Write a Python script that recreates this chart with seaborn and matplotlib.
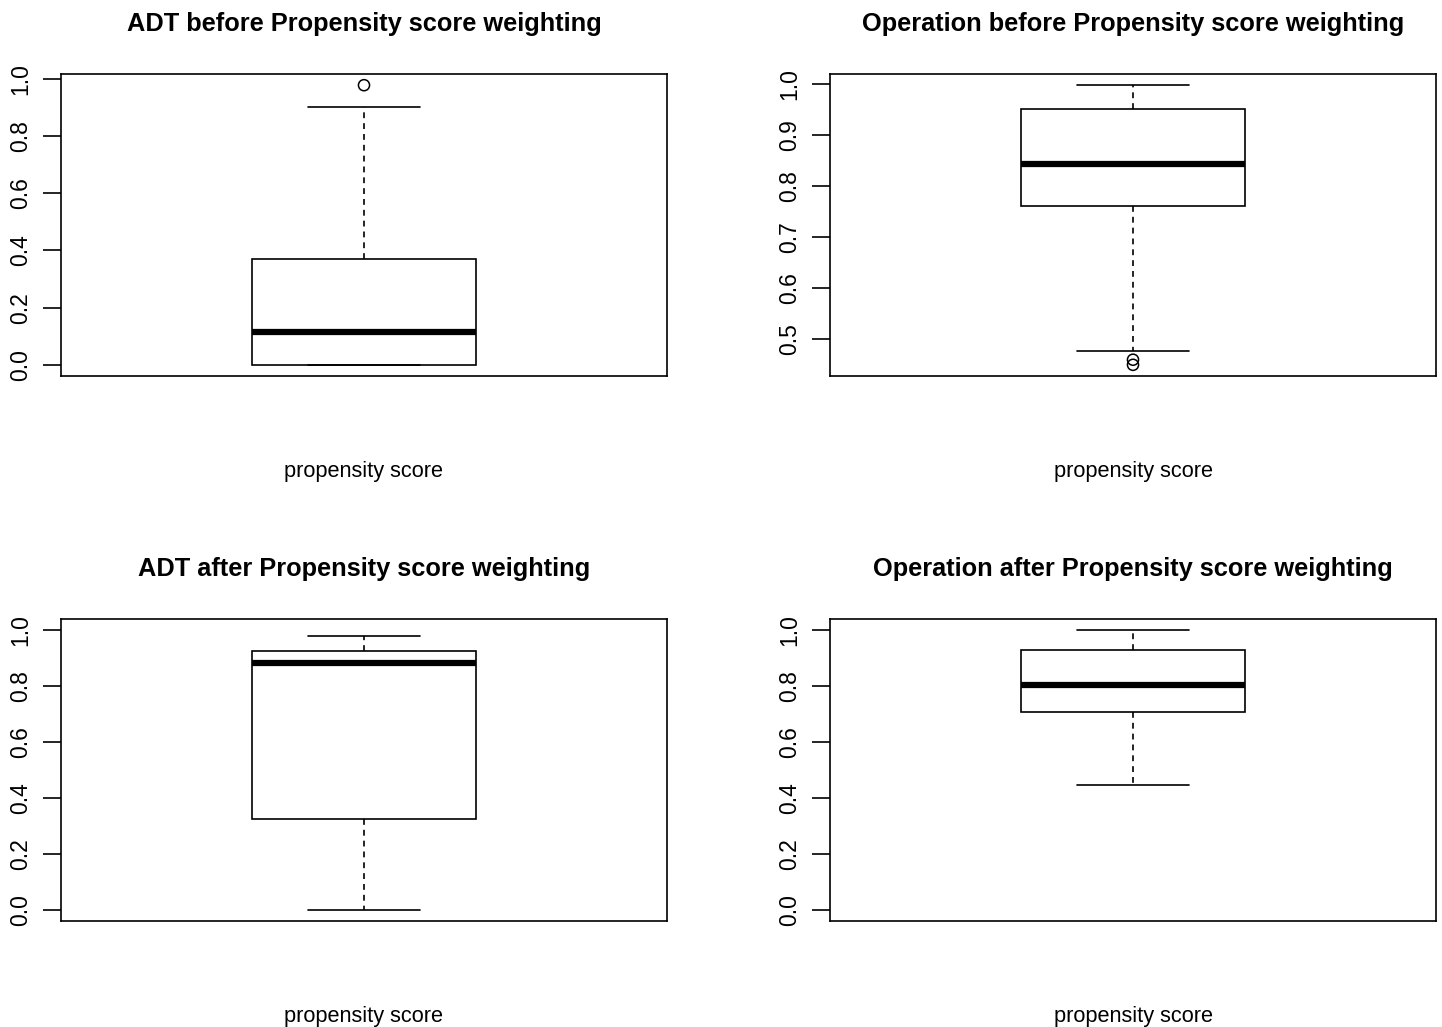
import numpy as np
import pandas as pd
import matplotlib
matplotlib.use("Agg")
import matplotlib.pyplot as plt
import seaborn as sns

# summary values: whisker low, Q1, median, Q3, whisker high
titles = ["ADT before Propensity score weighting",
          "Operation before Propensity score weighting",
          "ADT after Propensity score weighting",
          "Operation after Propensity score weighting"]
adt_before = [0.0, 0.0, 0.115, 0.371, 0.902]
op_before = [0.476, 0.760, 0.842, 0.951, 0.997]
adt_after = [0.0, 0.323, 0.882, 0.926, 0.978]
op_after = [0.448, 0.706, 0.804, 0.929, 1.0]
outliers = [[0.978], [0.459, 0.449], [], []]
ticks = [[0.0, 0.2, 0.4, 0.6, 0.8, 1.0],
         [0.5, 0.6, 0.7, 0.8, 0.9, 1.0],
         [0.0, 0.2, 0.4, 0.6, 0.8, 1.0],
         [0.0, 0.2, 0.4, 0.6, 0.8, 1.0]]
fixed_ylim = [None, None, (0, 1), (0, 1)]
boxes = [adt_before, op_before, adt_after, op_after]

sns.set_style("ticks")
plt.rcParams['font.family'] = ['Liberation Sans', 'DejaVu Sans']
plt.rcParams['text.color'] = 'black'
plt.rcParams['axes.labelcolor'] = 'black'
plt.rcParams['ytick.color'] = 'black'

fig = plt.figure(figsize=(14.42, 10.27), dpi=100)
W, H = 1442, 1027
# axes boxes in pixels (left, top, right, bottom)
frames = [(61, 74, 667, 376), (830, 74, 1436, 376),
          (61, 619, 667, 921), (830, 619, 1436, 921)]

for i, (l, t, r, b) in enumerate(frames):
    ax = fig.add_axes([l / W, 1 - b / H, (r - l) / W, (b - t) / H])
    vals = boxes[i]
    sns.boxplot(y=vals, ax=ax, width=0.4, whis=(0, 100), showfliers=False,
                color="white", linecolor="black", linewidth=1.2,
                medianprops={"linewidth": 4.5, "color": "black"},
                whiskerprops={"linestyle": (0, (3.5, 3)), "linewidth": 1.2},
                capprops={"linewidth": 1.2})
    if outliers[i]:
        sns.stripplot(y=outliers[i], ax=ax, jitter=False, size=8,
                      color="black", linewidth=1.1, edgecolor="black")
        ax.collections[-1].set_facecolor("none")

    # R style axis range: 4% extension
    if fixed_ylim[i] is None:
        lo = min(vals + outliers[i])
        hi = max(vals + outliers[i])
    else:
        lo, hi = fixed_ylim[i]
    pad = 0.04 * (hi - lo)
    ax.set_ylim(lo - pad, hi + pad)
    ax.set_xlim(-0.54, 0.54)

    ax.set_yticks(ticks[i])
    ax.set_yticklabels([f"{v:.1f}" for v in ticks[i]])
    ax.tick_params(axis="y", length=13, width=1.2, pad=8, labelsize=16.5,
                   labelrotation=90, color="black", labelcolor="black")
    for lab in ax.get_yticklabels():
        lab.set_va("center")
    ax.set_xticks([])
    ax.set_ylabel("")
    for s in ax.spines.values():
        s.set_visible(True)
        s.set_linewidth(1.2)
        s.set_color("black")

    ax.set_title(titles[i], fontsize=18.3, fontweight="bold", pad=31, color="black")
    ax.set_xlabel("propensity score", fontsize=15.7, labelpad=61, color="black")

fig.savefig("out.png", dpi=100)
